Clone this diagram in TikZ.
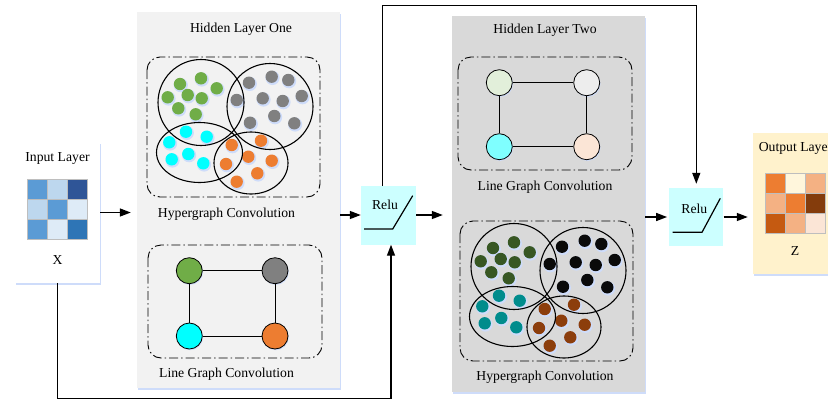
\documentclass[tikz,border=0pt]{standalone}
\usepackage{fontspec}
\setmainfont{Liberation Serif}
\usetikzlibrary{arrows.meta,calc,shadows}

% palette
\definecolor{panelA}{RGB}{242,242,242}
\definecolor{panelB}{RGB}{217,217,217}
\definecolor{reluC}{RGB}{204,255,255}
\definecolor{outC}{RGB}{255,242,204}
\definecolor{glow}{RGB}{206,220,250}
\definecolor{cellrule}{RGB}{190,190,190}
% hypergraph one
\definecolor{gGreen}{RGB}{112,173,71}
\definecolor{gGray}{RGB}{128,128,128}
\definecolor{gCyan}{RGB}{0,255,255}
\definecolor{gOrange}{RGB}{237,125,49}
% hypergraph two
\definecolor{dGreen}{RGB}{56,87,35}
\definecolor{dBlack}{RGB}{10,10,10}
\definecolor{dTeal}{RGB}{0,140,140}
\definecolor{dBrown}{RGB}{140,62,12}
% line graph two
\definecolor{lGreen}{RGB}{226,239,218}
\definecolor{lGray}{RGB}{237,237,237}
\definecolor{lCyan}{RGB}{127,255,255}
\definecolor{lOrange}{RGB}{251,229,214}
% input matrix
\definecolor{bA}{RGB}{91,155,213}
\definecolor{bB}{RGB}{189,215,238}
\definecolor{bC}{RGB}{47,85,151}
\definecolor{bD}{RGB}{222,235,247}
\definecolor{bE}{RGB}{46,117,182}
% output matrix
\definecolor{oA}{RGB}{237,125,49}
\definecolor{oB}{RGB}{255,246,220}
\definecolor{oC}{RGB}{244,177,131}
\definecolor{oD}{RGB}{132,60,12}
\definecolor{oE}{RGB}{197,90,17}
\definecolor{oF}{RGB}{251,229,214}

\tikzset{
  every node/.style={font=\fontsize{13.7}{16}\selectfont},
  boxshadow/.style={drop shadow={fill=glow,opacity=1,shadow xshift=1pt,shadow yshift=-2pt}},
  panel/.style={rectangle,draw=none,inner sep=0,boxshadow},
  layerbox/.style={rectangle,draw=none,inner sep=0,boxshadow},
  relubox/.style={rectangle,draw=none,fill=reluC,inner sep=0,minimum width=55pt,minimum height=59pt},
  dashbox/.style={line width=0.9pt,rounded corners=13pt,dash pattern=on 9pt off 3pt on 1.5pt off 3pt},
  hedge/.style={line width=1.1pt},
  gnode/.style={circle,draw,line width=0.8pt,minimum size=26pt,inner sep=0,
    drop shadow={fill=glow,opacity=1,shadow xshift=0.8pt,shadow yshift=-1.2pt}},
  gline/.style={line width=1pt},
  arr/.style={line width=1.4pt,-{Triangle[length=11pt,width=8pt]}},
  cell/.style={draw=cellrule,line width=0.8pt},
}

% one dot of a hyperedge, with its soft halo
\newcommand{\hdot}[3]{%
  \fill[glow] (#1+0.8,#2+1.2) circle (7.1pt);
  \fill[#3] (#1,#2) circle (6.2pt);
}

% four overlapping hyperedges with their vertices
\newcommand{\hyperblock}[4]{%
  \draw[dashbox] (147,57) rectangle (320,197);
  \foreach \x/\y in {201/78.3,180/84,216.7/88.3,187.7/95,167.7/97.3,201.7/98.3,178.3/108.3,195.7/114.3}
    {\hdot{\x}{\y}{#1}}
  \foreach \x/\y in {249/82.7,271.7/76.7,288.3/80,236.7/100,262.7/98.3,282.7/101,301.7/96,274.3/116,250/122.7,294.3/123.3}
    {\hdot{\x}{\y}{#2}}
  \foreach \x/\y in {186/131.7,206.7/136.7,169.3/142.3,188.3/154,171.7/159.3,203.3/163.3}
    {\hdot{\x}{\y}{#3}}
  \foreach \x/\y in {231.7/145,261/140.7,248.3/156.7,271.7/160.7,226/164,257.3/173.3,236.7/181.7}
    {\hdot{\x}{\y}{#4}}
  \draw[hedge] (201,102.5) circle (43pt);
  \draw[hedge] (270,106.5) circle (43pt);
  \draw[hedge] (199.5,152.5) ellipse (43pt and 30pt);
  \draw[hedge] (251,163) ellipse (37pt and 31pt);
}

\begin{document}
\begin{tikzpicture}[x=1pt,y=-1pt]
\useasboundingbox (0,0) rectangle (828,400);
\clip (0,0) rectangle (828,400);

% ---------- layer boxes ----------
\node[layerbox,fill=white,minimum width=85pt,minimum height=141pt] (input) at (57.5,212.5) {};
\node[panel,fill=panelA,minimum width=203pt,minimum height=376pt] (hid1) at (238.5,200) {};
\node[panel,fill=panelB,minimum width=193pt,minimum height=376pt] (hid2) at (548.5,204) {};
\node[layerbox,fill=outC,minimum width=85pt,minimum height=141pt] (output) at (795.5,203.5) {};
\node[relubox] (relu1) at (388.5,215) {};
\node[relubox,minimum width=54pt,minimum height=58pt] (relu2) at (696.3,217) {};

% ---------- input layer ----------
\node (inT) at (57.5,158) {Input Layer};
\foreach \c [count=\i from 0] in {bA,bB,bC,bB,bA,bD,bA,bD,bE}
  {\pgfmathtruncatemacro{\col}{mod(\i,3)}\pgfmathtruncatemacro{\row}{div(\i,3)}
   \filldraw[cell,fill=\c] (27+20*\col,179+20*\row) rectangle ++(20,20);}
\node (inX) at (57.5,260) {X};

% ---------- hidden layer one ----------
\node (h1T) at (241,29) {Hidden Layer One};
\hyperblock{gGreen}{gGray}{gCyan}{gOrange}
\node (h1H) at (226.5,214) {Hypergraph Convolution};
\draw[dashbox] (148,245) rectangle (322,358);
\node[gnode,fill=gGreen] (a1) at (189.3,270.7) {};
\node[gnode,fill=gGray] (a2) at (275,270.7) {};
\node[gnode,fill=gCyan] (a3) at (189.3,336) {};
\node[gnode,fill=gOrange] (a4) at (275,336) {};
\draw[gline] (a1) -- (a2) -- (a4) -- (a3) -- (a1);
\node (h1L) at (226.5,374) {Line Graph Convolution};

% ---------- hidden layer two ----------
\node (h2T) at (545,30) {Hidden Layer Two};
\draw[dashbox] (458,57) rectangle (632,170);
\node[gnode,fill=lGreen] (b1) at (499.3,82.7) {};
\node[gnode,fill=lGray] (b2) at (586.7,82.7) {};
\node[gnode,fill=lCyan] (b3) at (499.3,146.7) {};
\node[gnode,fill=lOrange] (b4) at (586.7,146.7) {};
\draw[gline] (b1) -- (b2) -- (b4) -- (b3) -- (b1);
\node (h2L) at (545,186.7) {Line Graph Convolution};
\begin{scope}[shift={(313,164)}]
  \hyperblock{dGreen}{dBlack}{dTeal}{dBrown}
\end{scope}
\node (h2H) at (545,377) {Hypergraph Convolution};

% ---------- relu units ----------
\node (r1T) at ($(relu1)+(-3.5,-10)$) {Relu};
\draw[line width=1.2pt] ($(relu1)+(-24.5,14)$) -- ++(28.7,0) -- ($(relu1)+(24.2,-19.3)$);
\node (r2T) at ($(relu2)+(-2,-8)$) {Relu};
\draw[line width=1.2pt] ($(relu2)+(-23.7,15.3)$) -- ++(29.4,0) -- ($(relu2)+(24,-18.7)$);

% ---------- output layer ----------
\node (outT) at (795.5,148.3) {Output Layer};
\foreach \c [count=\i from 0] in {oA,oB,oC,oC,oA,oD,oE,oC,oF}
  {\pgfmathtruncatemacro{\col}{mod(\i,3)}\pgfmathtruncatemacro{\row}{div(\i,3)}
   \filldraw[cell,fill=\c] (765+20*\col,173.3+20*\row) rectangle ++(20,20);}
\node (outZ) at (795,250.7) {Z};

% ---------- connections ----------
\coordinate (topY) at (382.3,5.7);
\coordinate (botY) at (0,398.3);
\draw[arr,shorten >=6pt] (input.east) -- (input.east -| hid1.west);
\draw[arr] (relu1.west -| hid1.east) -- (relu1.west);
\draw[arr,shorten >=9pt] (relu1.east) -- (relu1.east -| hid2.west);
\draw[arr,shorten >=2pt] (relu2.west -| hid2.east) -- (relu2.west);
\draw[arr,shorten >=5pt] (relu2.east) -- (relu2.east -| output.west);
\draw[arr,-,line cap=rect] (relu1.north -| topY) -- (topY) -- (topY -| relu2.north);
\draw[arr,shorten >=4pt] (topY -| relu2.north) -- (relu2.north);
\draw[arr,-,line cap=rect] (input.south) -- (input.south |- botY) -- ([xshift=2.5pt]botY -| relu1.south);
\draw[arr] ([xshift=2.5pt]botY -| relu1.south) -- ([xshift=2.5pt]relu1.south);
\end{tikzpicture}
\end{document}
